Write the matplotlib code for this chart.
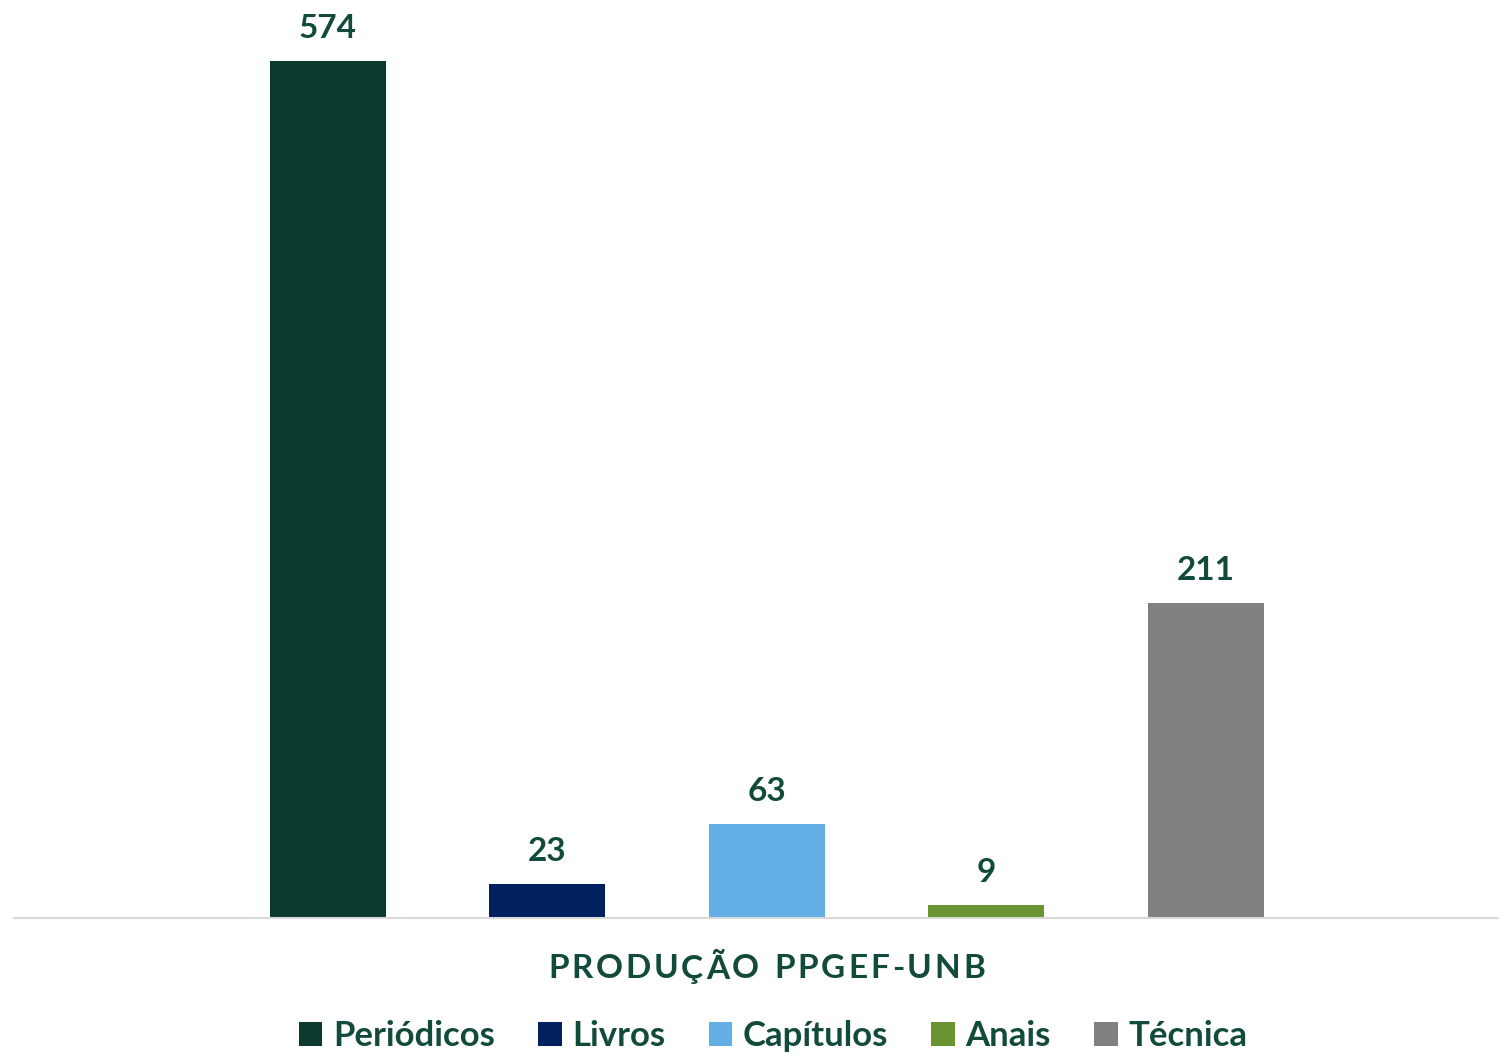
import matplotlib
matplotlib.use('Agg')
import matplotlib.pyplot as plt
from matplotlib.patches import Patch

series = ['Periódicos', 'Livros', 'Capítulos', 'Anais', 'Técnica']
values = [574, 23, 63, 9, 211]
colors = ['#0D3A2E', '#002060', '#62AEE5', '#6A9431', '#808080']
category = 'PRODUÇÃO PPGEF-UNB'

txt_color = '#124A3C'
plt.rcParams['font.family'] = ['Lato', 'DejaVu Sans']

W, H = 1499, 1057
fig = plt.figure(figsize=(W / 100, H / 100), dpi=100)
ax = fig.add_axes([14 / W, (H - 918) / H, (W - 14) / W, 918 / H])

x = list(range(len(series)))
bars = ax.bar(x, values, width=0.528, color=colors, zorder=2)
for xi, v in zip(x, values):
    ax.annotate(str(v), (xi, v), xytext=(0, 13), textcoords='offset points',
                ha='center', va='bottom', fontsize=24, fontweight='bold',
                color=txt_color)

ax.set_xlim(-1.43, 5.335)
ax.set_ylim(0, 614.9)
for s in ['top', 'right', 'left']:
    ax.spines[s].set_visible(False)
ax.spines['bottom'].set_color('#D9D9D9')
ax.spines['bottom'].set_linewidth(1.5)
ax.set_xticks([])
ax.set_yticks([])

# letter-spaced category label, stretched to the reference width
fig.canvas.draw()
r = fig.canvas.get_renderer()
widths = []
for ch in category:
    t = fig.text(0, 0, ch if ch != ' ' else 'n', fontsize=24, fontweight='bold')
    w = t.get_window_extent(r).width
    if ch == ' ':
        w *= 0.5
    widths.append(w)
    t.remove()
spacing = (437 - sum(widths)) / (len(category) - 1)
xpos = 766.5 - 437 / 2
for ch, w in zip(category, widths):
    fig.text(xpos / W, 1 - 969 / H, ch, fontsize=24, fontweight='bold',
             color=txt_color, ha='left', va='center')
    xpos += w + spacing

handles = [Patch(facecolor=c, edgecolor='none') for c in colors]
leg = fig.legend(handles, series, loc='center', bbox_to_anchor=(773 / W, 1 - 1036 / H),
                 ncol=5, frameon=False, handlelength=0.68, handleheight=0.68,
                 handletextpad=0.3, columnspacing=1.25,
                 prop={'size': 25, 'weight': 'bold'})
for t in leg.get_texts():
    t.set_color(txt_color)

fig.savefig('out.png', dpi=100)
